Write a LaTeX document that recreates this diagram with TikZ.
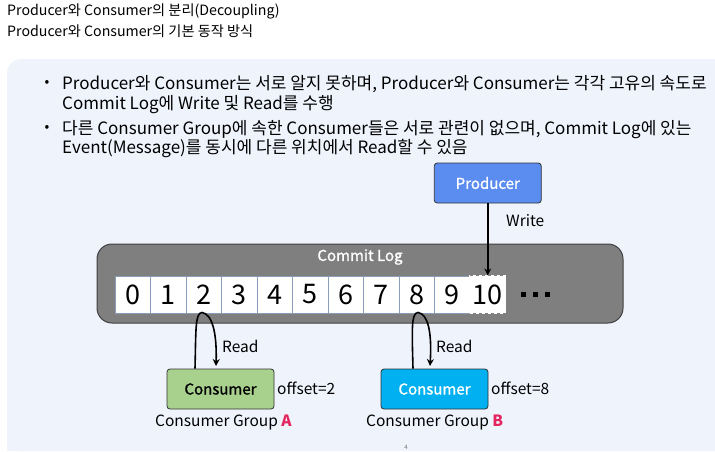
\documentclass[tikz,border=0pt]{standalone}
\usepackage{fontspec}
\setmainfont{Noto Sans CJK KR}
\newfontfamily\semib[FakeBold=1.2]{Noto Sans CJK KR}
\usetikzlibrary{arrows.meta}
\definecolor{panelbg}{HTML}{EFF3FC}
\definecolor{loggray}{HTML}{7F7F7F}
\definecolor{prodblue}{HTML}{5B8DF0}
\definecolor{consgreen}{HTML}{A9D18E}
\definecolor{conscyan}{HTML}{00B0F0}
\definecolor{grpred}{HTML}{E4245E}
\definecolor{cellline}{HTML}{8A9DB8}
\tikzset{
  txt/.style={inner sep=0pt, anchor=base west, font=\fontsize{17}{20}\selectfont},
  ttl/.style={inner sep=0pt, anchor=base west, font=\fontsize{14.2}{16}\selectfont},
  cell/.style={draw=cellline, line width=0.6pt, fill=white, minimum width=35.5pt, minimum height=37pt, inner sep=0pt, font=\fontsize{27}{28}\selectfont},
  boxnode/.style={draw=black!80, line width=0.8pt, rounded corners=3pt, minimum width=107pt, minimum height=40pt, inner sep=0pt, font=\semib\fontsize{15}{18}\selectfont},
  lbl/.style={inner sep=0pt, font=\fontsize{15.5}{18}\selectfont},
  arr/.style={line width=1.6pt, -{Stealth[length=7pt,width=7pt]}},
}
\begin{document}
\begin{tikzpicture}[x=1pt,y=-1pt]
\useasboundingbox (0,0) rectangle (715,451);
\fill[white] (0,0) rectangle (715,451);
% panel
\fill[panelbg, rounded corners=14pt] (7,59) rectangle (740,451);
\fill[panelbg] (7,430) rectangle (740,451);
% titles
\node[ttl] (t1) at (7,15) {Producer와 Consumer의 분리(Decoupling)};
\node[ttl] (t2) at (7,36) {Producer와 Consumer의 기본 동작 방식};
% bullets
\node[inner sep=0pt, font=\fontsize{14}{16}\selectfont] (b1) at (47,83) {•};
\node[inner sep=0pt, font=\fontsize{14}{16}\selectfont] (b2) at (47,128) {•};
\node[txt] (l1) at (62,89) {Producer와 Consumer는 서로 알지 못하며, Producer와 Consumer는 각각 고유의 속도로};
\node[txt] (l2) at (62,109) {Commit Log에 Write 및 Read를 수행};
\node[txt] (l3) at (62,134) {다른 Consumer Group에 속한 Consumer들은 서로 관련이 없으며, Commit Log에 있는};
\node[txt] (l4) at (62,153) {Event(Message)를 동시에 다른 위치에서 Read할 수 있음};
% commit log
\draw[fill=loggray, draw=black!75, line width=1pt, rounded corners=15pt] (97,244) rectangle (623,323);
\node[inner sep=0pt, text=white, font=\semib\fontsize{15}{17}\selectfont] (cl) at (360,257) {Commit Log};
\foreach \i in {0,...,9}{
  \node[cell] (c\i) at ({115+35.5*\i+17.75},294.5) {\i};
}
\node[cell, draw=white, dashed, line width=1.2pt] (c10) at ({115+35.5*10+17.75},294.5) {10};
\foreach \k in {0,1,2}{
  \fill[black] ({521+\k*12},291.5) rectangle ++(5,5);
}
% producer
\node[boxnode, fill=prodblue, text=white] (prod) at (487.75,183) {Producer};
\draw[arr] (prod.south) -- (c10.north);
\node[lbl, anchor=west] (wr) at (506,221) {Write};
% consumers
\node[boxnode, fill=consgreen, text=black] (ca) at (220.5,389) {Consumer};
\node[boxnode, fill=conscyan, text=white] (cb) at (434.5,389) {Consumer};
\node[lbl, anchor=west] (oa) at (277,388.5) {offset=2};
\node[lbl, anchor=west] (ob) at (491,388.5) {offset=8};
\node[lbl, anchor=west] (ga) at (155,422) {Consumer Group \textcolor{grpred}{\bfseries A}};
\node[lbl, anchor=west] (gb) at (366,422) {Consumer Group \textcolor{grpred}{\bfseries B}};
% read arrows
\coordinate (pa) at (202,312.5);
\coordinate (pb) at (418,312.5);
\draw[arr] ([xshift=-25.5pt]ca.north) .. controls (196,330) and (195,313) .. (pa) .. controls (212,314) and (217,332) .. (216,366);
\draw[arr] ([xshift=-21.5pt]cb.north) .. controls (412,330) and (411,313) .. (pb) .. controls (428,314) and (432,332) .. (430,366);
\node[lbl, anchor=west] (ra) at (222,346) {Read};
\node[lbl, anchor=west] (rb) at (436,346) {Read};
% page number
\node[inner sep=0pt, text=black!55, font=\fontsize{6}{7}\selectfont] (pg) at (406,447) {4};
\end{tikzpicture}
\end{document}
